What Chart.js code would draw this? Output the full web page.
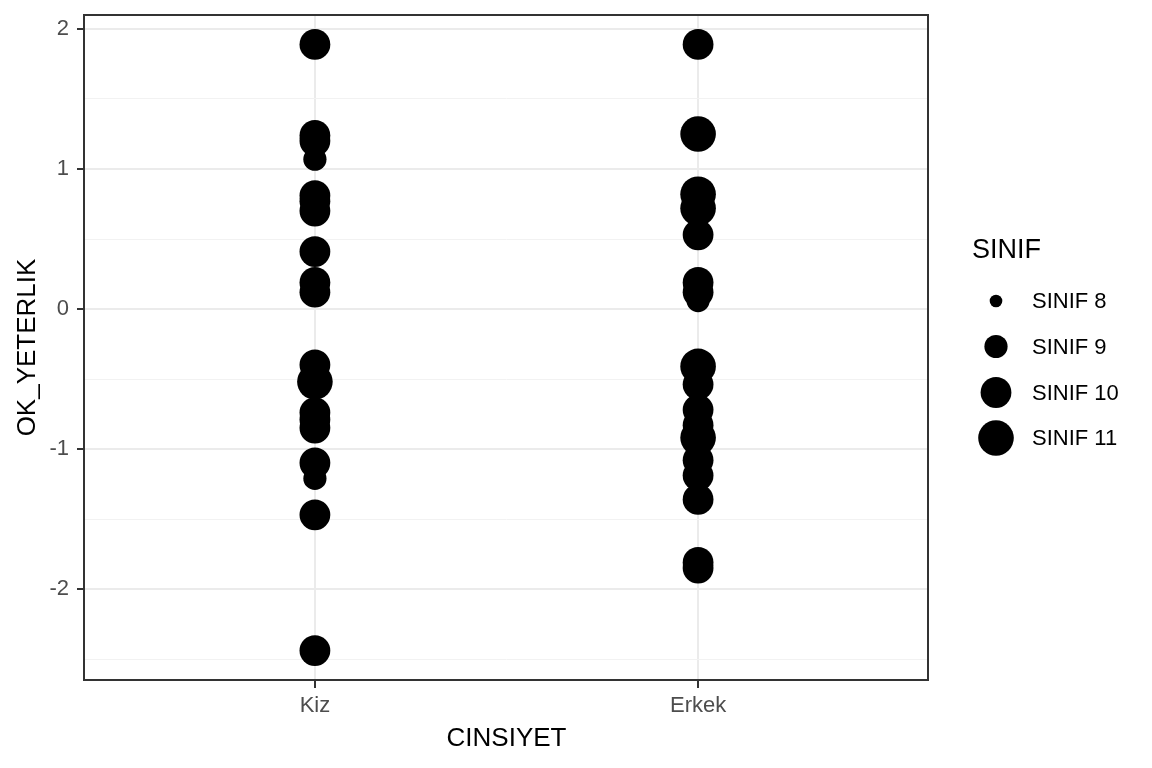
<!DOCTYPE html>
<html>
<head>
<meta charset="utf-8">
<script src="https://cdn.jsdelivr.net/npm/chart.js@4/dist/chart.umd.min.js"></script>
<style>
  html, body { margin: 0; padding: 0; background: #ffffff; }
  canvas { display: block; }
</style>
</head>
<body>
<canvas id="c" width="1152" height="768"></canvas>
<script>
// ---- data ----
const categories = ['Kiz', 'Erkek'];
const classLabels = ['SINIF 8', 'SINIF 9', 'SINIF 10', 'SINIF 11'];
const yTickValues = [-2.5, -2, -1.5, -1, -0.5, 0, 0.5, 1, 1.5, 2];

const sinif8Kiz = [];
const sinif8Erkek = [];
const sinif9Kiz = [1.07, -1.21];
const sinif9Erkek = [0.06];
const sinif10Kiz = [1.89, 1.24, 1.20, 0.81, 0.77, 0.70, 0.41, 0.19, 0.12, -0.40, -0.74, -0.79, -0.85, -1.10, -1.47, -2.44];
const sinif10Erkek = [1.89, 0.53, 0.19, 0.12, -0.54, -0.72, -0.83, -1.08, -1.19, -1.36, -1.81, -1.85];
const sinif11Kiz = [-0.52];
const sinif11Erkek = [1.25, 0.82, 0.72, -0.41, -0.92];

const classRadii = [6.3, 11.6, 15.4, 17.8];

function pts(kiz, erkek) {
  return kiz.map(v => ({ x: 1, y: v })).concat(erkek.map(v => ({ x: 2, y: v })));
}

const seriesData = [
  pts(sinif8Kiz, sinif8Erkek),
  pts(sinif9Kiz, sinif9Erkek),
  pts(sinif10Kiz, sinif10Erkek),
  pts(sinif11Kiz, sinif11Erkek)
];

const FONT = "'Liberation Sans', Arial, sans-serif";

const datasets = classLabels.map((lab, i) => ({
  label: lab,
  data: seriesData[i],
  pointRadius: classRadii[i],
  pointHoverRadius: classRadii[i],
  pointBackgroundColor: '#000000',
  pointBorderWidth: 0,
  borderWidth: 0,
  backgroundColor: '#000000',
  borderColor: '#000000'
}));

const frameAndLegend = {
  id: 'frameAndLegend',
  afterDatasetsDraw(chart) {
    const { ctx, chartArea: a } = chart;
    ctx.save();
    ctx.strokeStyle = '#333333';
    ctx.lineWidth = 2;
    ctx.strokeRect(a.left - 1, a.top, a.right - a.left + 1, a.bottom - a.top);
    ctx.restore();
  },
  afterDraw(chart) {
    const { ctx } = chart;
    ctx.save();
    ctx.fillStyle = '#000000';
    ctx.textBaseline = 'middle';
    ctx.textAlign = 'left';
    ctx.font = '27px ' + FONT;
    ctx.fillText('SINIF', 972, 251);
    const ys = [301, 346.5, 392.5, 438];
    ctx.font = '22px ' + FONT;
    chart.data.datasets.forEach((ds, i) => {
      ctx.beginPath();
      ctx.arc(996, ys[i], ds.pointRadius, 0, Math.PI * 2);
      ctx.fill();
      ctx.fillText(ds.label, 1032, ys[i] + 1);
    });
    ctx.restore();
  }
};

new Chart(document.getElementById('c'), {
  type: 'scatter',
  data: { datasets },
  options: {
    responsive: false,
    animation: false,
    devicePixelRatio: 1,
    layout: { autoPadding: false, padding: { top: 15, right: 224, bottom: 0, left: 0 } },
    plugins: {
      legend: { display: false },
      tooltip: { enabled: false }
    },
    scales: {
      x: {
        type: 'linear',
        min: 0.4,
        max: 2.6,
        afterBuildTicks(scale) { scale.ticks = categories.map((c, i) => ({ value: i + 1 })); },
        afterFit(scale) {
          scale.height = 88;
          scale.paddingLeft = 0; scale.paddingRight = 0;
          scale.paddingTop = 0; scale.paddingBottom = 0;
        },
        border: { display: false },
        grid: {
          color: '#EBEBEB',
          lineWidth: 2,
          drawTicks: true,
          tickLength: 8,
          tickColor: '#333333',
          tickWidth: 2
        },
        ticks: {
          autoSkip: false,
          maxRotation: 0,
          padding: 5,
          color: '#4D4D4D',
          font: { family: FONT, size: 22 },
          callback: (v) => categories[Math.round(v) - 1] || ''
        },
        title: {
          display: true,
          text: 'CINSIYET',
          color: '#000000',
          font: { family: FONT, size: 26 },
          padding: { top: 0, bottom: 14 }
        }
      },
      y: {
        type: 'linear',
        min: -2.65,
        max: 2.1,
        afterBuildTicks(scale) { scale.ticks = yTickValues.map(v => ({ value: v })); },
        afterFit(scale) {
          scale.width = 85;
          scale.paddingTop = 0; scale.paddingBottom = 0;
          scale.paddingLeft = 0; scale.paddingRight = 0;
        },
        border: { display: false },
        grid: {
          color: (ctx) => Number.isInteger(ctx.tick.value) ? '#EBEBEB' : '#F2F2F2',
          lineWidth: (ctx) => Number.isInteger(ctx.tick.value) ? 2 : 1,
          drawTicks: true,
          tickLength: 8,
          tickColor: (ctx) => Number.isInteger(ctx.tick.value) ? '#333333' : 'rgba(0,0,0,0)',
          tickWidth: 2
        },
        ticks: {
          autoSkip: false,
          padding: 8,
          color: '#4D4D4D',
          font: { family: FONT, size: 22 },
          callback: (v) => Number.isInteger(v) ? String(v) : ''
        },
        title: {
          display: true,
          text: 'OK_YETERLIK',
          color: '#000000',
          font: { family: FONT, size: 26 },
          padding: { top: 12, bottom: 0 }
        }
      }
    }
  },
  plugins: [frameAndLegend]
});
</script>
</body>
</html>
